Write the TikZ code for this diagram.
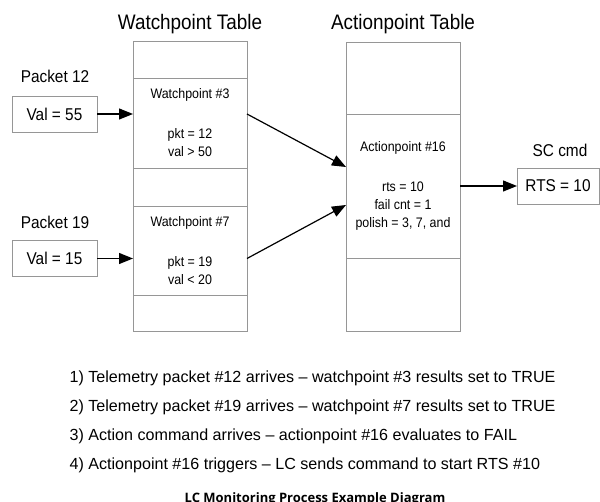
\documentclass[tikz,border=0pt]{standalone}
\usepackage{fontspec}
\setmainfont{Liberation Sans}
\newfontfamily\narrowfont[FakeStretch=0.9]{Liberation Sans}
\newfontfamily\captionfont{Open Sans}
\usepackage{tikz}
\usetikzlibrary{arrows.meta,positioning}

\definecolor{boxgray}{RGB}{150,150,150}

\tikzset{
  cell/.style={draw=boxgray, line width=0.9pt, minimum width=114pt, inner sep=0pt,
    outer sep=0pt, align=center, font=\narrowfont\fontsize{13.8}{18}\selectfont},
  valbox/.style={draw=boxgray, line width=0.9pt, minimum height=36pt, inner sep=0pt,
    outer sep=0pt, font=\narrowfont\fontsize{17.1}{18}\selectfont},
  heading/.style={anchor=base, font=\narrowfont\fontsize{21}{24}\selectfont},
  pktlabel/.style={anchor=base, font=\narrowfont\fontsize{17.1}{18}\selectfont},
  stepline/.style={anchor=base west, inner sep=0pt, font=\fontsize{16.1}{20}\selectfont},
}

\begin{document}
\begin{tikzpicture}[x=1pt,y=-1pt,>={Triangle[length=14pt,width=11pt]},line width=1.2pt]
 \useasboundingbox (0,0) rectangle (600,502);

 % watchpoint table
 \node[heading] (wptitle) at (190,30) {Watchpoint Table};
 \node[cell,minimum height=37pt,anchor=north] (wp1) at (190,41) {};
 \node[cell,minimum height=90pt,below=0pt of wp1] (wp3) {Watchpoint \#3\\[22pt]pkt = 12\\val > 50};
 \node[cell,minimum height=38pt,below=0pt of wp3] (wp5) {};
 \node[cell,minimum height=89pt,below=0pt of wp5] (wp7) {Watchpoint \#7\\[22pt]pkt = 19\\val < 20};
 \node[cell,minimum height=36pt,below=0pt of wp7] (wp9) {};

 % actionpoint table
 \node[heading] (aptitle) at (403,30) {Actionpoint Table};
 \node[cell,minimum height=72pt,anchor=north] (ap1) at (403,42) {};
 \node[cell,minimum height=144pt,below=0pt of ap1] (ap16) {Actionpoint \#16\\[22pt]rts = 10\\fail cnt = 1\\polish = 3, 7, and};
 \node[cell,minimum height=73pt,below=0pt of ap16] (ap3) {};

 % incoming packets
 \node[pktlabel] (pkt12) at (55,83) {Packet 12};
 \node[valbox,minimum width=85pt] (v55) at (54.5,114) {Val = 55};
 \node[pktlabel] (pkt19) at (55,229) {Packet 19};
 \node[valbox,minimum width=85pt] (v15) at (54.5,258.5) {Val = 15};

 % outgoing command
 \node[pktlabel] (sccmd) at (560,157) {SC cmd};
 \node[valbox,minimum width=82pt] (rts) at (558,186) {RTS = 10};

 \draw[->] (v55) -- (v55 -| wp3.west);
 \draw[->] (v15) -- (v15 -| wp7.west);
 \draw[->] (wp3.east |- v55) -- ([yshift=19pt]ap16.west);
 \draw[->] (wp7.east |- v15) -- ([yshift=-19pt]ap16.west);
 \draw[->] (ap16) -- (rts);

 % sequence of events
 \node[stepline] (step1) at (69,383) {1) Telemetry packet \#12 arrives – watchpoint \#3 results set to TRUE};
 \node[stepline] (step2) at (69,412) {2) Telemetry packet \#19 arrives – watchpoint \#7 results set to TRUE};
 \node[stepline] (step3) at (69,441) {3) Action command arrives – actionpoint \#16 evaluates to FAIL};
 \node[stepline] (step4) at (69,470) {4) Actionpoint \#16 triggers – LC sends command to start RTS \#10};

 \node[anchor=base,font=\captionfont\bfseries\fontsize{13}{15}\selectfont] (caption) at (315,502.5) {LC Monitoring Process Example Diagram};
\end{tikzpicture}
\end{document}
